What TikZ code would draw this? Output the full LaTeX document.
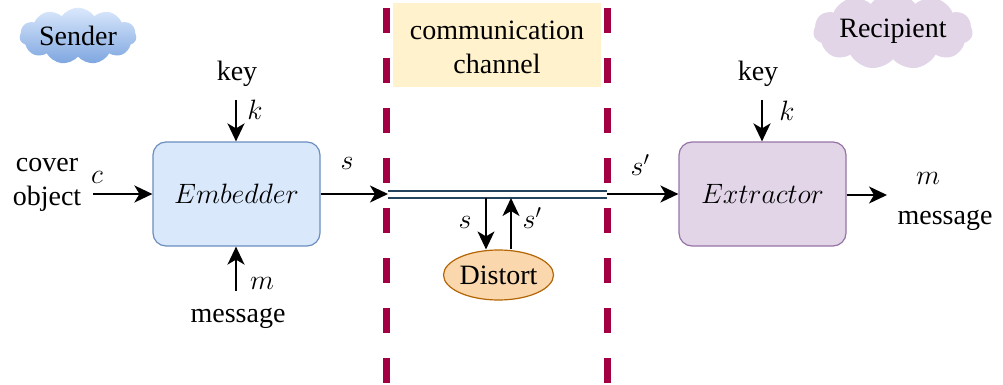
\RequirePackage{fix-cm}
\documentclass[tikz,border=0pt]{standalone}
\usepackage{fontspec}
\setmainfont{Liberation Serif}
\usetikzlibrary{arrows.meta,shapes.geometric,shapes.symbols}
\definecolor{blueFill}{HTML}{DAE8FC}
\definecolor{blueLine}{HTML}{6C8EBF}
\definecolor{blueDark}{HTML}{7EA6E0}
\definecolor{purpleFill}{HTML}{E1D5E7}
\definecolor{purpleLine}{HTML}{9673A6}
\definecolor{yellowFill}{HTML}{FFF2CC}
\definecolor{orangeFill}{HTML}{FAD7AC}
\definecolor{orangeLine}{HTML}{B46504}
\definecolor{borderRed}{HTML}{A20043}
\definecolor{wire}{HTML}{23445D}
\tikzset{
  txt/.style={font=\fontsize{28}{34}\selectfont, inner sep=0pt},
  block/.style={draw, rounded corners=13pt, line width=1.2pt, minimum width=167pt, minimum height=104pt, font=\fontsize{28}{34}\selectfont},
  arr/.style={line width=2pt, -{Stealth[length=18pt,width=17pt,inset=5pt]}},
  thinarr/.style={line width=1.3pt, -{Stealth[length=18pt,width=17pt,inset=5pt]}},
  border/.style={draw=borderRed, line width=7pt, dash pattern=on 25pt off 25pt},
  cloudy/.style={cloud, cloud puffs=11, cloud puff arc=110, aspect=2.8, inner sep=2pt, font=\fontsize{28}{34}\selectfont}
}
\begin{document}
\begin{tikzpicture}[x=1pt,y=-1pt]
\useasboundingbox (0,0) rectangle (1003,385);

% party labels
\node[cloudy, top color=blueFill, bottom color=blueDark, minimum width=116pt, minimum height=50pt] (sender) at (78,36) {Sender};
\node[cloudy, fill=purpleFill, minimum width=152pt, minimum height=54pt] (recipient) at (893,31) {Recipient};

% channel region
\fill[yellowFill] (393,3) rectangle (601,87);
\node[txt, align=center] (chan) at (497,47) {communication\\channel};
\draw[border] (386,8) -- (386,385);
\draw[border] (607,8) -- (607,385);

% processing blocks
\node[block, fill=blueFill, draw=blueLine] (emb) at (236.5,194) {$Embedder$};
\node[block, fill=purpleFill, draw=purpleLine] (ext) at (762.5,194) {$Extractor$};

% sender side inputs
\node[txt] (keyL) at (237,74) {key};
\coordinate (keyLs) at (236,100);
\draw[arr] (keyLs) -- (emb.north -| keyLs);
\node[txt] (kL) at (255,110) {$k$};

\node[txt, align=center] (cover) at (47,185) {cover\\object};
\node[txt] (cL) at (97,177) {$c$};
\coordinate (coverS) at (93,194);
\draw[arr] (coverS) -- (emb.west);

\node[txt] (msgL) at (238,318) {message};
\coordinate (msgLs) at (236,291);
\draw[arr] (msgLs) -- (emb.south -| msgLs);
\node[txt] (mL) at (262,283) {$m$};

% channel
\coordinate (chL) at (388,194);
\coordinate (chR) at (607,194);
\draw[arr] (emb.east) -- (chL);
\node[txt] (sOut) at (347,163) {$s$};
\draw[wire, line width=2pt, double=white, double distance=5pt] (chL) -- (chR);

% distortion loop
\node[ellipse, draw=orangeLine, fill=orangeFill, line width=1.2pt, minimum width=109pt, minimum height=50pt, inner sep=0pt, font=\fontsize{28}{34}\selectfont] (dist) at (498.5,275) {Distort};
\coordinate (dDown) at (486,198);
\coordinate (dUp) at (511,198);
\draw[thinarr] (dDown) -- (dDown |- dist.north);
\draw[arr] (dUp |- dist.north) -- (dUp);
\node[txt] (sD) at (465,222) {$s$};
\node[txt] (spD) at (532,218) {$s'$};

% recipient side
\draw[arr] (chR) -- (ext.west);
\node[txt] (sIn) at (640,165) {$s'$};

\node[txt] (keyR) at (758,74) {key};
\coordinate (keyRs) at (762,100);
\draw[arr] (keyRs) -- (ext.north -| keyRs);
\node[txt] (kR) at (787,111) {$k$};

\coordinate (outR) at (887,195);
\draw[thinarr] (ext.east |- outR) -- (outR);
\node[txt] (mR) at (928,178) {$m$};
\node[txt] (msgR) at (945,220) {message};
\end{tikzpicture}
\end{document}
